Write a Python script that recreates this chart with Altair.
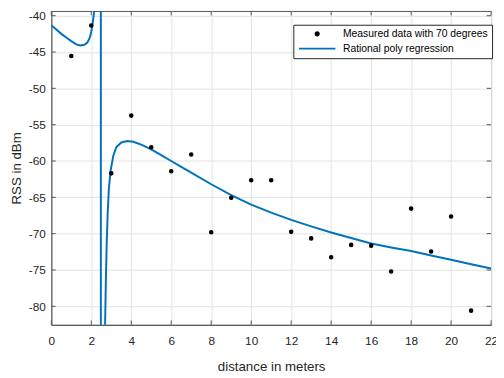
import altair as alt
import pandas as pd

# ---- data ----
meas_x = list(range(1, 22))
meas_y = [-45.55, -41.35, -61.7, -53.75, -58.1, -61.4, -59.1, -69.8, -65.05, -62.65,
          -62.65, -69.75, -70.65, -73.25, -71.55, -71.65, -75.2, -66.55, -72.45, -67.65, -80.6]

fit_x = [0.0, 0.25, 0.5, 0.75, 1.0, 1.25, 1.45, 1.65, 1.8, 1.9, 1.97, 2.05, 2.12, 2.2, 2.3, 2.4,
         2.46, 2.475, 2.485, 2.55, 2.62, 2.69, 2.73, 2.77, 2.82, 2.88, 2.97, 3.1, 3.25, 3.5,
         3.8, 4.1, 4.5, 5.0, 5.5, 6.0, 6.5, 7.0, 8.0, 9.0, 10.0, 11.0, 12.0, 13.0, 14.0,
         15.0, 16.0, 17.0, 18.0, 19.0, 20.0, 21.0, 22.0]
fit_y = [-41.3, -41.9, -42.5, -43.0, -43.5, -43.95, -44.1, -44.0, -43.7, -43.2, -42.6, -41.4,
         -40.0, -38.3, -30.0, -10.0, 60.0, 400.0, -600.0, -150.0, -100.0, -82.6, -76.5, -71.5,
         -67.3, -63.8, -61.3, -59.3, -58.1, -57.45, -57.25, -57.35, -57.75, -58.4, -59.2,
         -60.0, -60.8, -61.6, -63.2, -64.7, -66.0, -67.1, -68.1, -69.0, -69.85, -70.6,
         -71.35, -71.9, -72.4, -73.0, -73.6, -74.2, -74.8]

xticks = list(range(0, 23, 2))
yticks = list(range(-80, -39, 5))

series_pts = "Measured data with 70 degrees"
series_fit = "Rational poly regression"

x_domain = [0, 22]
y_domain = [-82.55, -39.35]

# ---- tables ----
pts_df = pd.DataFrame({"x": meas_x, "y": meas_y, "s": series_pts})
fit_df = pd.DataFrame({"x": fit_x, "y": fit_y, "s": series_fit, "i": range(len(fit_x))})
xt_df = pd.DataFrame({"x": xticks})
yt_df = pd.DataFrame({"y": yticks})

W, H = 447, 319
FONT = "Liberation Sans"
AX = "#555555"
TK = 4.5

xs = alt.Scale(domain=x_domain, nice=False, zero=False)
ys = alt.Scale(domain=y_domain, nice=False, zero=False)
dom = [series_pts, series_fit]
col_scale = alt.Scale(domain=dom, range=["#000000", "#0072BD"])
shape_scale = alt.Scale(domain=dom, range=["circle", "M-5,0H5"])
size_scale = alt.Scale(domain=dom, range=[10, 55])

x_axis = alt.Axis(values=xticks, tickCount=12, grid=True, ticks=False, tickSize=0,
                  title="distance in meters",
                  labelFontSize=12, labelFont=FONT, labelColor="#262626", labelPadding=11,
                  titleFontSize=13.5, titleFont=FONT, titleFontWeight="normal", titleColor="#262626",
                  titlePadding=13, labelFlush=False, labelOverlap=False, domainColor=AX)
y_axis = alt.Axis(values=yticks, tickCount=9, grid=True, ticks=False, tickSize=0,
                  title="RSS in dBm",
                  labelFontSize=12, labelFont=FONT, labelColor="#262626", labelPadding=6,
                  titleFontSize=13.5, titleFont=FONT, titleFontWeight="normal", titleColor="#262626",
                  titlePadding=5, labelFlush=False, labelOverlap=False, domainColor=AX,
                  labelExpr="datum.value + ''")

X = alt.X("x:Q", scale=xs, axis=x_axis)
Y = alt.Y("y:Q", scale=ys, axis=y_axis)

leg = alt.Legend(title=None)

points = alt.Chart(pts_df).mark_point(filled=True, strokeWidth=1.5, opacity=1).encode(
    x=X, y=Y,
    fill=alt.Fill("s:N", scale=col_scale, legend=leg),
    stroke=alt.Stroke("s:N", scale=col_scale, legend=leg),
    shape=alt.Shape("s:N", scale=shape_scale, legend=leg),
    size=alt.Size("s:N", scale=size_scale, legend=leg),
)

curve = alt.Chart(fit_df).mark_line(strokeWidth=2, clip=True).encode(
    x=X, y=Y,
    stroke=alt.Stroke("s:N", scale=col_scale, legend=leg),
    order="i:Q",
)

xt_bottom = alt.Chart(xt_df).mark_rule(color=AX, strokeWidth=1).encode(
    x=X, y=alt.value(H), y2=alt.value(H - TK))
xt_top = alt.Chart(xt_df).mark_rule(color=AX, strokeWidth=1).encode(
    x=X, y=alt.value(0), y2=alt.value(TK))
yt_left = alt.Chart(yt_df).mark_rule(color=AX, strokeWidth=1).encode(
    y=Y, x=alt.value(0), x2=alt.value(TK))
yt_right = alt.Chart(yt_df).mark_rule(color=AX, strokeWidth=1).encode(
    y=Y, x=alt.value(W), x2=alt.value(W - TK))

chart = alt.layer(curve, points, xt_bottom, xt_top, yt_left, yt_right).properties(
    width=W, height=H,
    autosize=alt.AutoSizeParams(type="none"),
    padding={"left": 44, "top": 0, "right": 5, "bottom": 50},
    background="white",
).configure_view(
    stroke=AX, strokeWidth=1
).configure_axis(
    gridColor="#e2e2e2", gridWidth=1, domainWidth=1
).configure_legend(
    orient="none", legendX=246, legendY=14, strokeColor="#262626", fillColor="white",
    padding=4, labelFont=FONT, labelFontSize=10.5, labelColor="#000000", labelOffset=21,
    symbolOffset=15, symbolStrokeWidth=2, labelLimit=0, rowPadding=4, cornerRadius=0
)

chart.save("out.html", embed_options={"renderer": "svg", "actions": False})
